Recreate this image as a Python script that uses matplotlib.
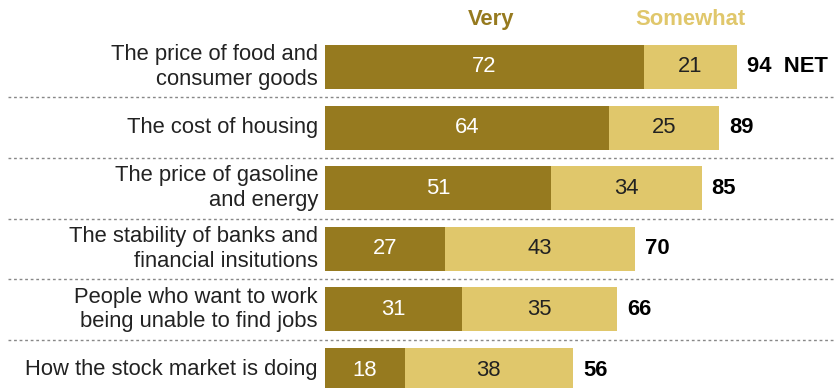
import matplotlib.pyplot as plt
from matplotlib.lines import Line2D

# Share saying each is a concern
items = ["The price of food and\nconsumer goods",
         "The cost of housing",
         "The price of gasoline\nand energy",
         "The stability of banks and\nfinancial insitutions",
         "People who want to work\nbeing unable to find jobs",
         "How the stock market is doing"]
very = [72, 64, 51, 27, 31, 18]
somewhat = [21, 25, 34, 43, 35, 38]
net = [94, 89, 85, 70, 66, 56]

dark = "#967A1F"
light = "#E0C76B"

W, H = 834, 388
fig = plt.figure(figsize=(W / 100, H / 100), dpi=100)
ax = fig.add_axes([0, 0, 1, 1])

# pixel layout: bars start at x=325, 4.43 px per point; rows 60.6 px apart
x0, sc = 325, 4.43
y0, step = 67, 60.6
ax.set_xlim(-x0 / sc, (W - x0) / sc)
ax.set_ylim((H - y0) / step, -y0 / step)
ax.axis("off")

fam = ["Liberation Sans", "DejaVu Sans"]
fs = 15.8
pos = list(range(len(items)))
ax.barh(pos, very, height=0.726, color=dark)
ax.barh(pos, somewhat, left=very, height=0.726, color=light)

for i in pos:
    ax.text(-1.6, i, items[i], ha="right", va="center", fontsize=fs,
            family=fam, color="#222222", linespacing=1.22)
    ax.text(very[i] / 2, i, str(very[i]), ha="center", va="center",
            fontsize=fs, family=fam, color="white")
    ax.text(very[i] + somewhat[i] / 2, i, str(somewhat[i]), ha="center",
            va="center", fontsize=fs, family=fam, color="#222222")
    lbl = str(net[i]) + ("  NET" if i == 0 else "")
    ax.text(very[i] + somewhat[i] + 2.3, i, lbl, ha="left", va="center",
            fontsize=fs, family=fam, fontweight="bold", color="black")
    if i < len(items) - 1:
        ax.add_line(Line2D([-x0 / sc + 8 / sc, (W - x0) / sc], [i + 0.5, i + 0.5],
                           color="#888888", lw=1, linestyle=(0, (2, 2))))

ax.text(37.5, -0.78, "Very", ha="center", va="center", fontsize=fs,
        family=fam, fontweight="bold", color=dark)
ax.text(82.6, -0.78, "Somewhat", ha="center", va="center", fontsize=fs,
        family=fam, fontweight="bold", color=light)

fig.savefig("out.png", dpi=100)
